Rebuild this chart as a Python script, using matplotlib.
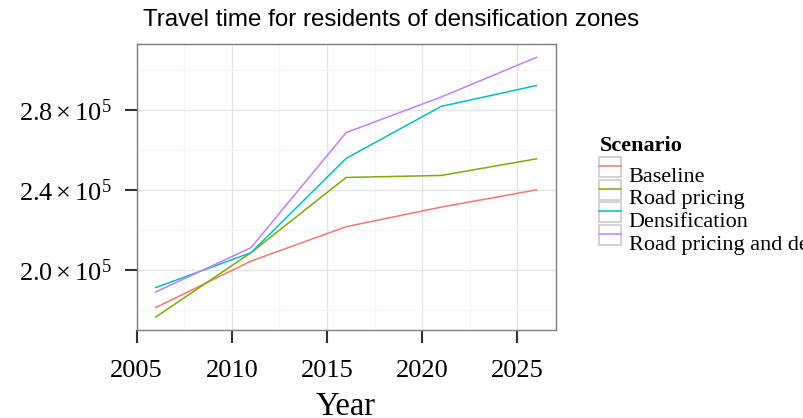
import numpy as np
import matplotlib.pyplot as plt
from matplotlib.legend_handler import HandlerLine2D
from matplotlib.patches import Rectangle
from matplotlib.ticker import FuncFormatter, MultipleLocator
from matplotlib.transforms import ScaledTranslation

# Данные
years = [2006, 2011, 2016, 2021, 2026]
baseline = [181400, 204600, 221800, 231600, 240200]
road_pricing = [176700, 208800, 246400, 247400, 255700]
densification = [191400, 208800, 255900, 281900, 292300]
road_pricing_dens = [189200, 211300, 268800, 286600, 306400]

scenarios = ["Baseline", "Road pricing", "Densification",
             "Road pricing and densification"]
colors = ["#F8766D", "#7CAE00", "#00BFC4", "#C77CFF"]

serif = ["Liberation Serif", "DejaVu Serif"]
plt.rcParams["font.family"] = serif
plt.rcParams["mathtext.fontset"] = "custom"
plt.rcParams["mathtext.rm"] = "Liberation Serif"
plt.rcParams["mathtext.it"] = "Liberation Serif:italic"


class BoxedLine(HandlerLine2D):
    # ключ легенды в рамке, как в ggplot
    def create_artists(self, legend, orig_handle, xdescent, ydescent,
                       width, height, fontsize, trans):
        arts = super().create_artists(legend, orig_handle, xdescent, ydescent,
                                      width, height, fontsize, trans)
        box = Rectangle((-xdescent, -ydescent), width, height, fc="white",
                        ec="#cccccc", lw=1.2, transform=trans)
        return [box] + arts


fig = plt.figure(figsize=(8.04, 4.18), dpi=100)
ax = fig.add_axes([0.170, 0.2105, 0.521, 0.6835])

for vals, lab, c in zip([baseline, road_pricing, densification, road_pricing_dens],
                        scenarios, colors):
    ax.plot(years, vals, color=c, lw=1.1, label=lab)

lo = min(min(baseline), min(road_pricing), min(densification), min(road_pricing_dens))
hi = max(max(baseline), max(road_pricing), max(densification), max(road_pricing_dens))
pad = (hi - lo) * 0.05
ax.set_ylim(lo - pad, hi + pad)
ax.set_xlim(2005, 2027)

ax.xaxis.set_major_locator(MultipleLocator(5))
ax.xaxis.set_minor_locator(MultipleLocator(2.5))
ax.yaxis.set_major_locator(MultipleLocator(40000))
ax.yaxis.set_minor_locator(MultipleLocator(20000))
ax.yaxis.set_major_formatter(FuncFormatter(
    lambda v, p: r"$%.1f\times10^{5}$" % (v / 1e5)))

ax.grid(which="major", color="#e5e5e5", lw=1.0)
ax.grid(which="minor", color="#f5f5f5", lw=0.8)
ax.set_axisbelow(True)
for s in ax.spines.values():
    s.set_color("#7f7f7f")
    s.set_linewidth(1.0)
ax.tick_params(which="major", length=9, width=1.5, color="#333333",
               labelsize=19)
ax.tick_params(axis="x", pad=12.5)
ax.tick_params(axis="y", pad=9)
ax.tick_params(which="minor", length=0)

ax.set_xlabel("Year", fontsize=23.5, labelpad=7)
ax.set_title("Travel time for residents of densification zones",
             family=["Liberation Sans", "DejaVu Sans"], fontsize=17.4,
             loc="left", x=0.014, pad=13)

fig.text(600 / 804, 1 - 150.7 / 418, "Scenario", fontsize=16,
         fontweight="bold", ha="left", va="baseline")
leg = fig.legend(handler_map={plt.Line2D: BoxedLine()},
                 loc="upper left", bbox_to_anchor=(599 / 804, 1 - 157.3 / 418),
                 frameon=False, fontsize=16, handlelength=1.0,
                 handleheight=1.0, labelspacing=0.0, handletextpad=0.34,
                 borderpad=0, borderaxespad=0)
# текст в легенде ggplot сидит ниже центра ключа
shift = ScaledTranslation(0, -7 / 100, fig.dpi_scale_trans)
for t in leg.get_texts():
    t.set_transform(t.get_transform() + shift)

fig.savefig("out.png", dpi=100)
